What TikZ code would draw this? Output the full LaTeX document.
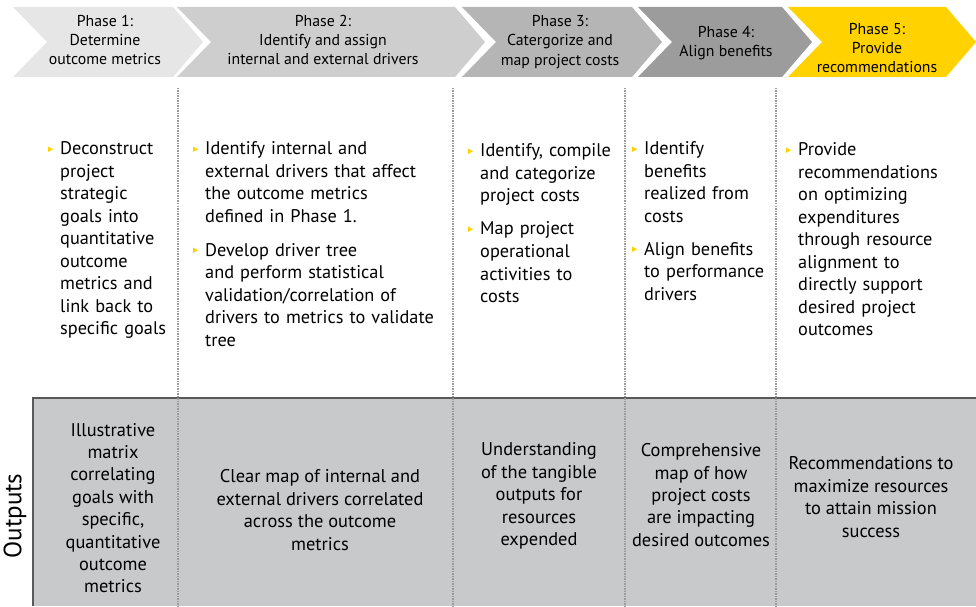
\documentclass[tikz,border=0pt]{standalone}
\usepackage{fontspec}
\setmainfont{PT Sans}
\definecolor{phA}{HTML}{E6E6E6}
\definecolor{phB}{HTML}{CECECE}
\definecolor{phC}{HTML}{B5B5B5}
\definecolor{phD}{HTML}{9C9C9C}
\definecolor{phE}{HTML}{FFD200}
\definecolor{outfill}{HTML}{C8C9CB}
\definecolor{rulegray}{HTML}{9A9A9A}
\tikzset{
    headtext/.style={align=center,inner sep=0,font=\fontsize{15.8}{19.3}\selectfont},
    itemtext/.style={anchor=base west,align=left,text width=260pt,inner sep=0,font=\fontsize{18.3}{22.5}\selectfont},
    outtext/.style={align=center,inner sep=0,font=\fontsize{18.4}{22.4}\selectfont},
    colrule/.style={rulegray,line width=1.3pt,dash pattern=on 1.5pt off 1pt},
}
\newcommand\ybul[1]{\fill[phE] ([xshift=-12pt,yshift=3pt]#1.base west) -- ++(0,5.5) -- ++(5,-2.75) -- cycle;}
\begin{document}
\begin{tikzpicture}[x=1pt,y=1pt]
    \useasboundingbox (0,0) rectangle (976,606);
    \foreach \a/\b/\c in {13/173/phA,177/455/phB,462/632/phC,638/782/phD,788/946/phE}
        \fill[\c] (\a,599) -- (\b,599) -- ++(30,-35) -- (\b,529) -- (\a,529) -- ++(34,35) -- cycle;
    \node[headtext] (hd1) at (105,566) {Phase 1:\\Determine\\outcome metrics};
    \node[headtext] (hd2) at (323,566) {Phase 2:\\Identify and assign\\internal and external drivers};
    \node[headtext] (hd3) at (560,564) {Phase 3:\\Catergorize and\\map project costs};
    \node[headtext] (hd4) at (726,563) {Phase 4:\\Align benefits};
    \node[headtext] (hd5) at (877,558) {Phase 5:\\Provide\\recommendations};

    \fill[outfill] (33,0) rectangle (976,208);
    \draw[black!65,line width=1.3pt] (33,0) |- (976,208);
    \foreach \x in {178,453,625,776}
        \draw[colrule] (\x,518) -- (\x,0);

    \node[itemtext] (it1a) at (60,451) {Deconstruct\\project\\strategic\\goals into\\quantitative\\outcome\\metrics and\\link back to\\specific goals};
    \node[itemtext] (it2a) at (205,451) {Identify internal and\\external drivers that affect\\the outcome metrics\\defined in Phase 1.};
    \node[itemtext] (it2b) at (205,350) {Develop driver tree\\and perform statistical\\validation/correlation of\\drivers to metrics to validate\\tree};
    \node[itemtext] (it3a) at (480,449) {Identify, compile\\and categorize\\project costs};
    \node[itemtext] (it3b) at (480,371) {Map project\\operational\\activities to\\costs};
    \node[itemtext] (it4a) at (644,451) {Identify\\benefits\\realized from\\costs};
    \node[itemtext] (it4b) at (644,351) {Align benefits\\to performance\\drivers};
    \node[itemtext] (it5a) at (798,450) {Provide\\recommendations\\on optimizing\\expenditures\\through resource\\alignment to\\directly support\\desired project\\outcomes};
    \foreach \n in {it1a,it2a,it2b,it3a,it3b,it4a,it4b,it5a}
        {\ybul{\n}}

    \node[rotate=90,inner sep=0,font=\fontsize{25}{28}\selectfont] (outlbl) at (15,90) {Outputs};
    \node[outtext] (out1) at (113,98) {Illustrative\\matrix\\correlating\\goals with\\specific,\\quantitative\\outcome\\metrics};
    \node[outtext] (out2) at (320,96) {Clear map of internal and\\external drivers correlated\\across the outcome\\metrics};
    \node[outtext] (out3) at (539,110) {Understanding\\of the tangible\\outputs for\\resources\\expended};
    \node[outtext] (out4) at (701,111) {Comprehensive\\map of how\\project costs\\are impacting\\desired outcomes};
    \node[outtext] (out5) at (871,109) {Recommendations to\\maximize resources\\to attain mission\\success};
\end{tikzpicture}
\end{document}
